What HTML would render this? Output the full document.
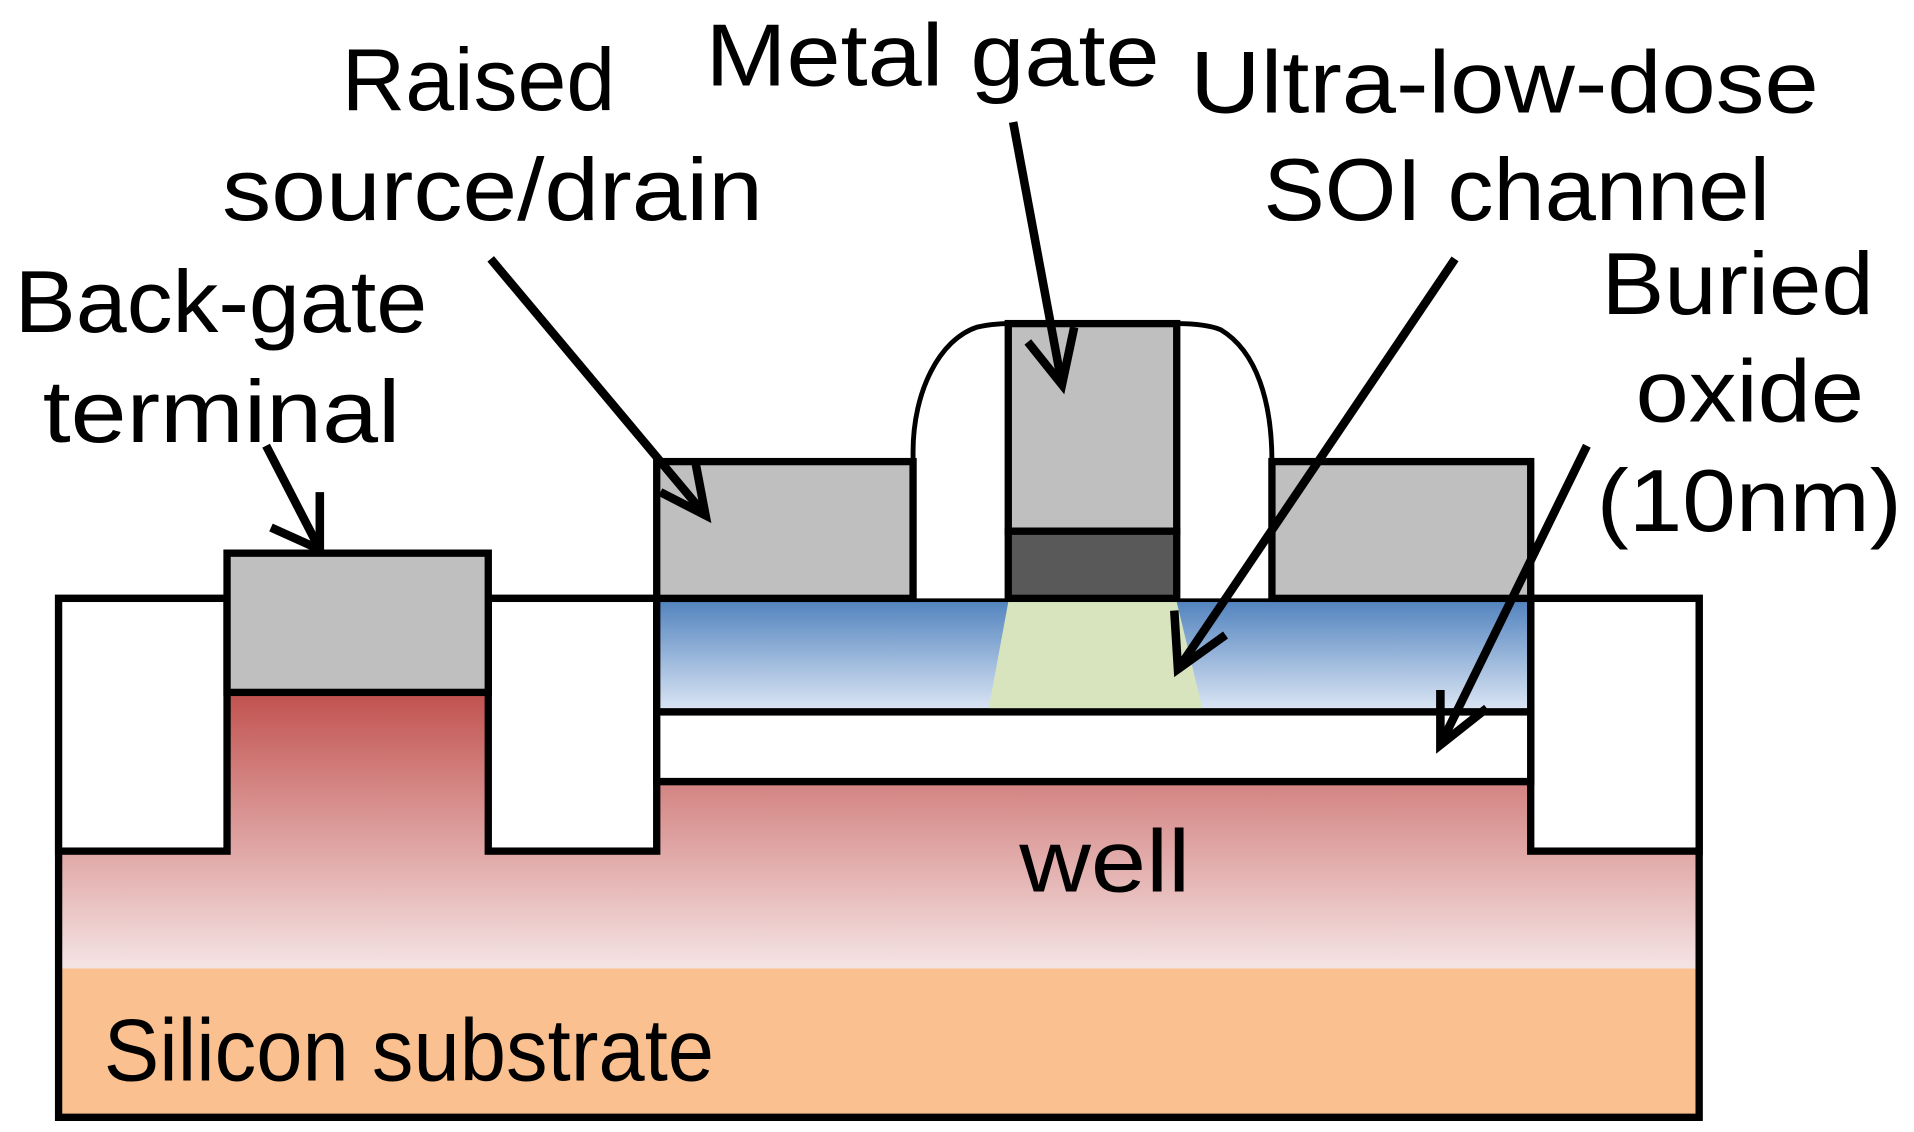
<!DOCTYPE html>
<html><head><meta charset="utf-8"><style>
html,body{margin:0;padding:0;background:#fff;}
svg{display:block;}
text{font-family:"Liberation Sans Narrow","Liberation Sans",sans-serif;font-size:72px;fill:#000;}
</style></head><body>
<svg width="1914" height="1132" viewBox="0 0 1568 927" preserveAspectRatio="none" xmlns="http://www.w3.org/2000/svg">
<defs>
<linearGradient id="well" x1="0" y1="0" x2="0" y2="1">
<stop offset="0" stop-color="#c0504d"/><stop offset="0.35" stop-color="#d48684"/><stop offset="1" stop-color="#f5e4e4"/>
</linearGradient>
<linearGradient id="soi" x1="0" y1="0" x2="0" y2="1">
<stop offset="0" stop-color="#4f81bd"/><stop offset="1" stop-color="#dde7f5"/>
</linearGradient>
</defs>
<rect x="48" y="793" width="1344" height="122" fill="#fac090"/>
<rect x="48" y="565" width="1344" height="228" fill="url(#well)"/>
<path d="M48 490 H1392 V915 H48 Z" fill="none" stroke="#000" stroke-width="6"/>
<rect x="48" y="490" width="138" height="207" fill="#fff" stroke="#000" stroke-width="6"/>
<rect x="400" y="490" width="138" height="207" fill="#fff" stroke="#000" stroke-width="6"/>
<rect x="1254" y="490" width="138" height="207" fill="#fff" stroke="#000" stroke-width="6"/>
<rect x="538" y="490" width="716" height="150" fill="#fff" stroke="#000" stroke-width="6"/>
<rect x="186" y="453" width="214" height="114" fill="#bfbfbf" stroke="#000" stroke-width="6"/>
<rect x="538" y="490" width="716" height="93" fill="url(#soi)" stroke="#000" stroke-width="6"/>
<polygon points="826,493 964,493 985,580 810,580" fill="#d7e4bd"/>
<rect x="538" y="583" width="716" height="57" fill="#fff" stroke="#000" stroke-width="6"/>
<path d="M748 490 V370 C748 320 770 278 800 268 C812 265 826 265 826 265 H964 C975 265 990 266 1000 270 C1030 288 1042 330 1042 378 V490" fill="#fff" stroke="#000" stroke-width="4"/>
<rect x="538" y="378" width="210" height="112" fill="#bfbfbf" stroke="#000" stroke-width="6"/>
<rect x="1042" y="378" width="212" height="112" fill="#bfbfbf" stroke="#000" stroke-width="6"/>
<rect x="826" y="265" width="138" height="170" fill="#bfbfbf" stroke="#000" stroke-width="6"/>
<rect x="826" y="435" width="138" height="55" fill="#595959" stroke="#000" stroke-width="6"/>
<g stroke="#000" stroke-width="7" fill="none">
<line x1="218" y1="365" x2="262" y2="450"/><polyline points="222,432 262,450 262,403"/>
<line x1="402" y1="212" x2="578" y2="422"/><polyline points="541,403 578,422 570,380"/>
<line x1="830" y1="100" x2="870" y2="315"/><polyline points="842,280 870,315 880,268"/>
<line x1="1192" y1="212" x2="965" y2="548"/><polyline points="962,500 965,548 1004,520"/>
<line x1="1300" y1="365" x2="1180" y2="610"/><polyline points="1180,565 1180,610 1218,580"/>
</g>
<text x="392" y="90" text-anchor="middle" textLength="224" lengthAdjust="spacingAndGlyphs">Raised</text>
<text x="182" y="180" textLength="443" lengthAdjust="spacingAndGlyphs">source/drain</text>
<text x="578" y="70" textLength="372" lengthAdjust="spacingAndGlyphs">Metal gate</text>
<text x="975" y="92" textLength="515" lengthAdjust="spacingAndGlyphs">Ultra-low-dose</text>
<text x="1035" y="180" textLength="415" lengthAdjust="spacingAndGlyphs">SOI channel</text>
<text x="12" y="272" textLength="338" lengthAdjust="spacingAndGlyphs">Back-gate</text>
<text x="35" y="362" textLength="293" lengthAdjust="spacingAndGlyphs">terminal</text>
<text x="1312" y="257" textLength="223" lengthAdjust="spacingAndGlyphs">Buried</text>
<text x="1340" y="345" textLength="187" lengthAdjust="spacingAndGlyphs">oxide</text>
<text x="1308" y="435" textLength="250" lengthAdjust="spacingAndGlyphs">(10nm)</text>
<text x="835" y="730" textLength="140" lengthAdjust="spacingAndGlyphs">well</text>
<text x="85" y="885" textLength="500" lengthAdjust="spacingAndGlyphs">Silicon substrate</text>
</svg>
</body></html>
